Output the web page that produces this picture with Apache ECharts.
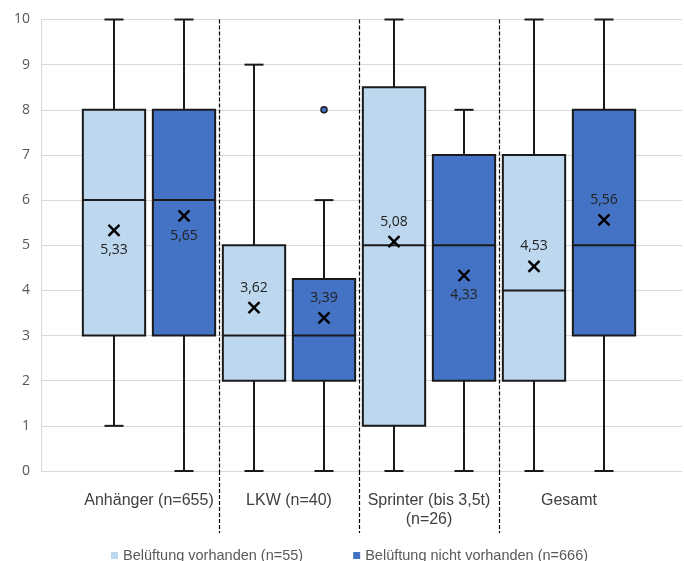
<!DOCTYPE html>
<html>
<head>
<meta charset="utf-8">
<script src="https://cdn.jsdelivr.net/npm/echarts@6/dist/echarts.min.js"></script>
<style>
html,body{margin:0;padding:0;background:#fff;}
#chart{width:684px;height:561px;}
</style>
</head>
<body>
<div id="chart"></div>
<script>
// ---- data ----
const categories = ['Anhänger (n=655)', 'LKW (n=40)', 'Sprinter (bis 3,5t)\n(n=26)', 'Gesamt'];
const seriesNames = ['Belüftung vorhanden (n=55)', 'Belüftung nicht vorhanden (n=666)'];
// [min, Q1, median, Q3, max]
const boxLight = [
  [1, 3, 6, 8, 10],
  [0, 2, 3, 5, 9],
  [0, 1, 5, 8.5, 10],
  [0, 2, 4, 7, 10]
];
const boxDark = [
  [0, 3, 6, 8, 10],
  [0, 2, 3, 4.25, 6],
  [0, 2, 5, 7, 8],
  [0, 3, 5, 8, 10]
];
const meanLight = [5.33, 3.62, 5.08, 4.53];
const meanDark = [5.65, 3.39, 4.33, 5.56];
// outliers: [category index, value]
const outliersLight = [];
const outliersDark = [[1, 8]];
const yTicks = [0, 10, 1]; // min, max, interval

// ---- styles ----
const colLight = '#BDD7EE';
const colDark = '#4472C4';
const labelSideLight = ['bottom', 'top', 'top', 'top'];
const labelSideDark = ['bottom', 'top', 'bottom', 'top'];

function fmt(v) { return v.toFixed(2).replace('.', ','); }

function makeRender(boxes, means, sides, color, offFrac) {
  return function (params, api) {
    const ci = api.value(0);
    const band = api.size([1, 0])[0];
    const cx = api.coord([ci, 0])[0] + offFrac * band;
    const y = v => api.coord([ci, v])[1];
    const b = boxes[ci];
    const bw = band * 0.445;
    const cw = band * 0.136;
    const stroke = '#1a1a1a';
    const lw = 2;
    const ym = y(means[ci]);
    const children = [
      {type: 'line', shape: {x1: cx, y1: y(b[4]), x2: cx, y2: y(b[3])}, style: {stroke, lineWidth: lw}},
      {type: 'line', shape: {x1: cx, y1: y(b[1]), x2: cx, y2: y(b[0])}, style: {stroke, lineWidth: lw}},
      {type: 'line', shape: {x1: cx - cw / 2, y1: y(b[4]), x2: cx + cw / 2, y2: y(b[4])}, style: {stroke, lineWidth: lw}},
      {type: 'line', shape: {x1: cx - cw / 2, y1: y(b[0]), x2: cx + cw / 2, y2: y(b[0])}, style: {stroke, lineWidth: lw}},
      {type: 'rect', shape: {x: cx - bw / 2, y: y(b[3]), width: bw, height: y(b[1]) - y(b[3])}, style: {fill: color, stroke, lineWidth: lw}},
      {type: 'line', shape: {x1: cx - bw / 2, y1: y(b[2]), x2: cx + bw / 2, y2: y(b[2])}, style: {stroke, lineWidth: lw}},
      {type: 'line', shape: {x1: cx - 5.5, y1: ym - 5.5, x2: cx + 5.5, y2: ym + 5.5}, style: {stroke: '#000', lineWidth: 2.4}},
      {type: 'line', shape: {x1: cx - 5.5, y1: ym + 5.5, x2: cx + 5.5, y2: ym - 5.5}, style: {stroke: '#000', lineWidth: 2.4}},
      {type: 'text', style: {text: fmt(means[ci]), x: cx, y: ym + (sides[ci] === 'top' ? -20 : 20),
        fill: '#222', fontSize: 14, fontFamily: 'Open Sans', align: 'center', verticalAlign: 'middle'}}
    ];
    return {type: 'group', children};
  };
}

function makeOutlierRender(offFrac, color) {
  return function (params, api) {
    const ci = api.value(0);
    const band = api.size([1, 0])[0];
    const p = api.coord([ci, api.value(1)]);
    return {type: 'circle', shape: {cx: p[0] + offFrac * band, cy: p[1], r: 3}, style: {fill: color, stroke: '#1a1a1a', lineWidth: 1.5}};
  };
}

const chart = echarts.init(document.getElementById('chart'), null, {renderer: 'canvas'});
const dashStyle = {color: '#000', width: 1.2, type: [4, 2]};
const option = {
  animation: false,
  backgroundColor: '#fff',
  grid: [
    {left: 41, right: 2, top: 19.5, bottom: 90},
    {left: 79, right: 45, top: 19.5, bottom: 90},
    {left: 79, right: 45, top: 471, bottom: 28}
  ],
  xAxis: [
    {gridIndex: 0, type: 'value', min: 0, max: 1, show: false},
    {gridIndex: 1, type: 'category', data: categories,
      axisLine: {show: false}, axisTick: {show: false},
      axisLabel: {interval: 0, fontSize: 16, fontFamily: 'Liberation Sans', color: '#404040', margin: 20, lineHeight: 19},
      splitLine: {show: true, interval: 0, showMinLine: false, showMaxLine: false, lineStyle: dashStyle}},
    {gridIndex: 2, type: 'category', data: categories,
      axisLine: {show: false}, axisTick: {show: false}, axisLabel: {show: false, interval: 0},
      splitLine: {show: true, interval: 0, showMinLine: false, showMaxLine: false, lineStyle: dashStyle}}
  ],
  yAxis: [
    {gridIndex: 0, type: 'value', min: yTicks[0], max: yTicks[1], interval: yTicks[2],
      axisLine: {show: true, lineStyle: {color: '#d9d9d9'}}, axisTick: {show: false},
      axisLabel: {fontSize: 14, fontFamily: 'Open Sans', color: '#595959', margin: 11},
      splitLine: {show: true, lineStyle: {color: '#d9d9d9', width: 1}}},
    {gridIndex: 1, type: 'value', min: yTicks[0], max: yTicks[1], show: false},
    {gridIndex: 2, type: 'value', min: 0, max: 1, show: false}
  ],
  legend: {
    data: seriesNames,
    left: 106, top: 543,
    icon: 'rect', itemWidth: 7, itemHeight: 7, itemGap: 50,
    textStyle: {fontSize: 14.5, fontFamily: 'Liberation Sans', color: '#595959'}
  },
  series: [
    {name: seriesNames[0], type: 'custom', xAxisIndex: 1, yAxisIndex: 1,
      itemStyle: {color: colLight},
      data: boxLight.map((b, i) => [i, ...b]),
      encode: {x: 0, y: [1, 2, 3, 4, 5]},
      renderItem: makeRender(boxLight, meanLight, labelSideLight, colLight, -0.25)},
    {name: seriesNames[1], type: 'custom', xAxisIndex: 1, yAxisIndex: 1,
      itemStyle: {color: colDark},
      data: boxDark.map((b, i) => [i, ...b]),
      encode: {x: 0, y: [1, 2, 3, 4, 5]},
      renderItem: makeRender(boxDark, meanDark, labelSideDark, colDark, 0.25)},
    {name: 'outLight', type: 'custom', xAxisIndex: 1, yAxisIndex: 1,
      data: outliersLight, encode: {x: 0, y: 1},
      renderItem: makeOutlierRender(-0.25, colLight)},
    {name: 'outDark', type: 'custom', xAxisIndex: 1, yAxisIndex: 1,
      data: outliersDark, encode: {x: 0, y: 1},
      renderItem: makeOutlierRender(0.25, colDark)}
  ]
};
chart.setOption(option);
</script>
</body>
</html>
